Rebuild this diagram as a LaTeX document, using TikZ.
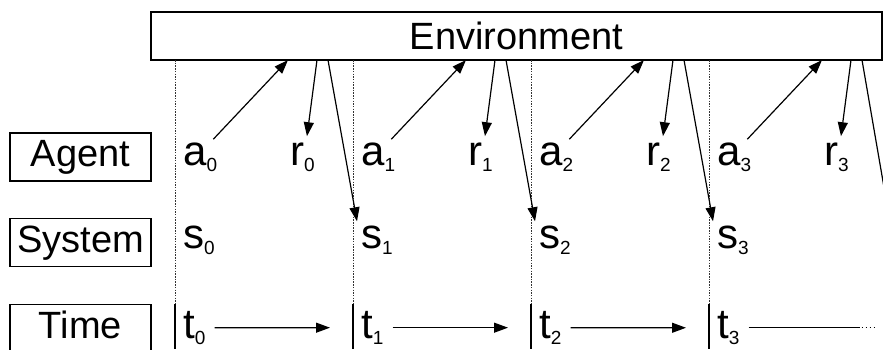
\documentclass[tikz,border=0pt]{standalone}
\usepackage{fontspec}
\setmainfont{Liberation Sans}
\usetikzlibrary{arrows.meta}
\newcommand{\lbl}[2]{#1\raisebox{-6.5pt}{\fontsize{19}{19}\selectfont #2}}

\begin{document}
\begin{tikzpicture}[x=1pt,y=-1pt,
    box/.style={draw, line width=1.4pt, inner sep=0pt, minimum width=141pt, minimum height=48pt,
        text height=27pt, text depth=8pt, font=\fontsize{38}{42}\selectfont},
    var/.style={anchor=base west, inner sep=0pt, font=\fontsize{42}{46}\selectfont},
    arr/.style={line width=1.2pt, -{Triangle[length=14pt,width=10pt]}},
    grid/.style={line width=1pt, dash pattern=on 1.5pt off 1.2pt, black!80}]
    \useasboundingbox (0,0) rectangle (883,349);
    \clip (0,0) rectangle (883,349);

    % Umgebung
    \node[draw, line width=1.4pt, inner sep=0pt, minimum width=731pt, minimum height=48pt,
        font=\fontsize{38}{42}\selectfont] (env) at (516.5,36) {Environment};

    % Zeilen
    \node[box] (agent) at (80.5,157) {Agent};
    \node[box] (system) at (80.5,242.5) {System};
    \node[box] (time) at (80.5,328.5) {Time};

    % Zeitschritte
    \foreach \i in {0,...,3} {
        \pgfmathsetmacro{\x}{175+178*\i}
        \draw[grid] (\x,60) -- (\x,304);
        \draw[line width=1.2pt] (\x,304) -- (\x,349);
        \node[var] (a\i) at (\x+8,165) {\lbl{a}{\i}};
        \node[var] (r\i) at (\x+115,165) {\lbl{r}{\i}};
        \node[var] (s\i) at (\x+8,248) {\lbl{s}{\i}};
        \node[var] (t\i) at (\x+8,338) {\lbl{t}{\i}};
        \coordinate (ea\i) at (\x+113,60);
        \coordinate (er\i) at (\x+142,60);
        \coordinate (es\i) at (\x+153,60);
    }

    % Aktion und Belohnung
    \foreach \i in {0,...,3} {
        \draw[arr] ([shift={(-4,-3)}]a\i.north east) -- (ea\i);
        \draw[arr] (er\i) -- ([shift={(4.5,-6)}]r\i.north);
    }

    % Zustand und Zeit
    \foreach \i [count=\j from 1] in {0,...,2} {
        \draw[arr] (es\i) -- ([shift={(-4,-4)}]s\j.north west);
        \draw[arr] ([xshift=9pt]t\i.east) -- ([xshift=-31pt]t\j.west);
    }
    \coordinate (s4) at (890,222);
    \draw[line width=1.2pt] (es3) -- (s4);
    \draw[line width=1.2pt] ([xshift=9pt]t3.east) -- ++(111,0) coordinate (tend);
    \draw[line width=1.4pt, dash pattern=on 1.5pt off 2.5pt] ([xshift=2pt]tend) -- ++(16,0);
\end{tikzpicture}
\end{document}
